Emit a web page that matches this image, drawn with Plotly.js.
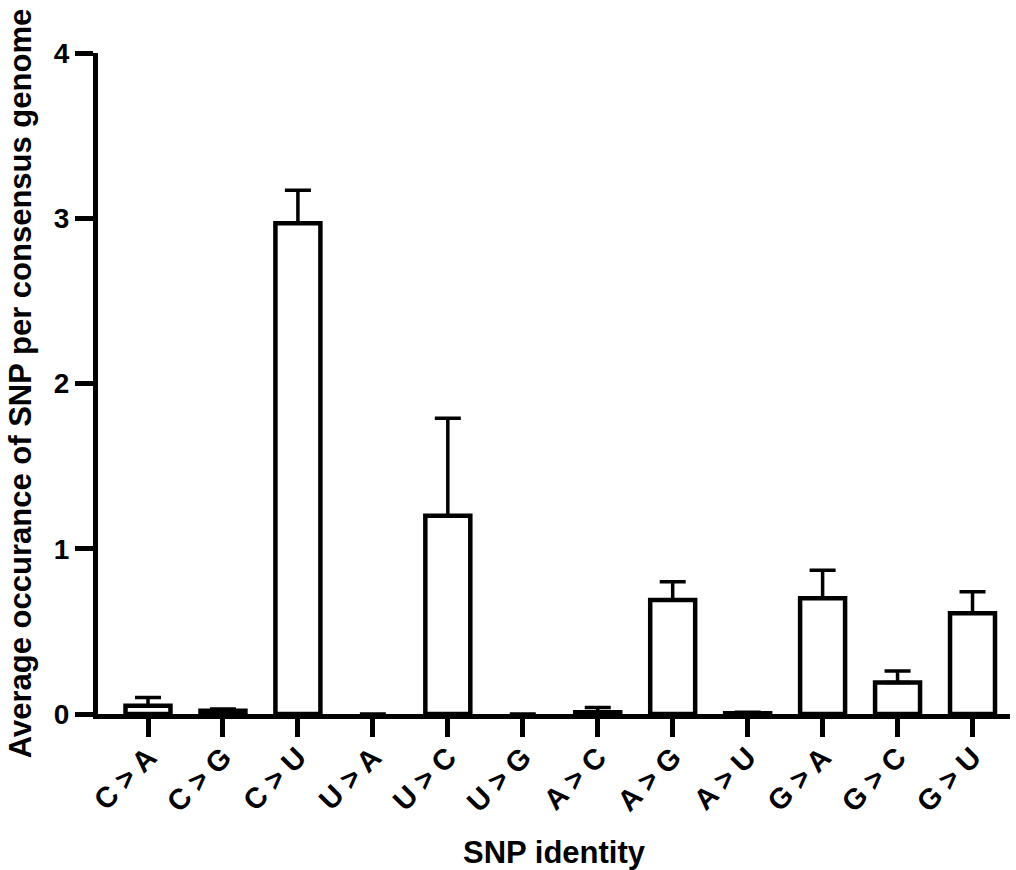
<!DOCTYPE html>
<html>
<head>
<meta charset="utf-8">
<script src="https://cdn.plot.ly/plotly-3.0.1.min.js"></script>
<style>html,body{margin:0;padding:0;background:#fff;}#chart{width:1016px;height:870px;}</style>
</head>
<body>
<div id="chart"></div>
<script>
const categories = ["C > A","C > G","C > U","U > A","U > C","U > G","A > C","A > G","A > U","G > A","G > C","G > U"];
const meanValues = [0.05, 0.02, 2.97, 0, 1.20, 0, 0.01, 0.69, 0.005, 0.70, 0.19, 0.61];
const errorUpper = [0.05, 0.01, 0.20, null, 0.59, null, 0.03, 0.11, 0.005, 0.17, 0.07, 0.13];
const errorLower = [0, 0, 0, null, 0, null, 0, 0, 0, 0, 0, 0];
const yTickValues = [0, 1, 2, 3, 4];

const FONT = "Arial, 'Liberation Sans', Helvetica, sans-serif";

const trace = {
  type: 'bar',
  x: categories,
  y: meanValues,
  width: 0.6,
  marker: {
    color: meanValues.map(v => v > 0 ? '#ffffff' : 'rgba(255,255,255,0)'),
    line: {
      color: meanValues.map(v => v > 0 ? '#000000' : 'rgba(0,0,0,0)'),
      width: meanValues.map(v => v > 0 ? 4.5 : 0)
    }
  },
  error_y: {type: 'data', symmetric: false, array: errorUpper, arrayminus: errorLower,
            color: '#000000', thickness: 3.5, width: 13},
  hoverinfo: 'x+y'
};

const layout = {
  width: 1016, height: 870,
  margin: {l: 98, r: 6, t: 53, b: 156},
  paper_bgcolor: '#ffffff', plot_bgcolor: '#ffffff',
  showlegend: false,
  font: {family: FONT, color: '#000000'},
  xaxis: {
    type: 'category',
    range: [-0.667, 11.5],
    showline: true, linewidth: 5, linecolor: '#000000',
    ticks: 'outside', ticklen: 18, tickwidth: 5, tickcolor: '#000000',
    tickangle: -45, ticklabelstandoff: -8,
    tickfont: {family: FONT, size: 29, weight: 'bold', color: '#000000'},
    showgrid: false, zeroline: false, automargin: false,
    title: {text: 'SNP identity', font: {family: FONT, size: 31, weight: 'bold', color: '#000000'}, standoff: 34}
  },
  yaxis: {
    range: [0, 4],
    tickvals: yTickValues,
    ticktext: yTickValues.map(String),
    showline: true, linewidth: 5, linecolor: '#000000',
    ticks: 'outside', ticklen: 18, tickwidth: 5, tickcolor: '#000000',
    tickfont: {family: FONT, size: 28, weight: 'bold', color: '#000000'},
    showgrid: false, zeroline: false, automargin: false,
    title: {text: 'Average occurance of SNP per consensus genome', font: {family: FONT, size: 31, weight: 'bold', color: '#000000'}, standoff: 14}
  }
};

Plotly.newPlot('chart', [trace], layout, {displayModeBar: false, staticPlot: true});
</script>
</body>
</html>
